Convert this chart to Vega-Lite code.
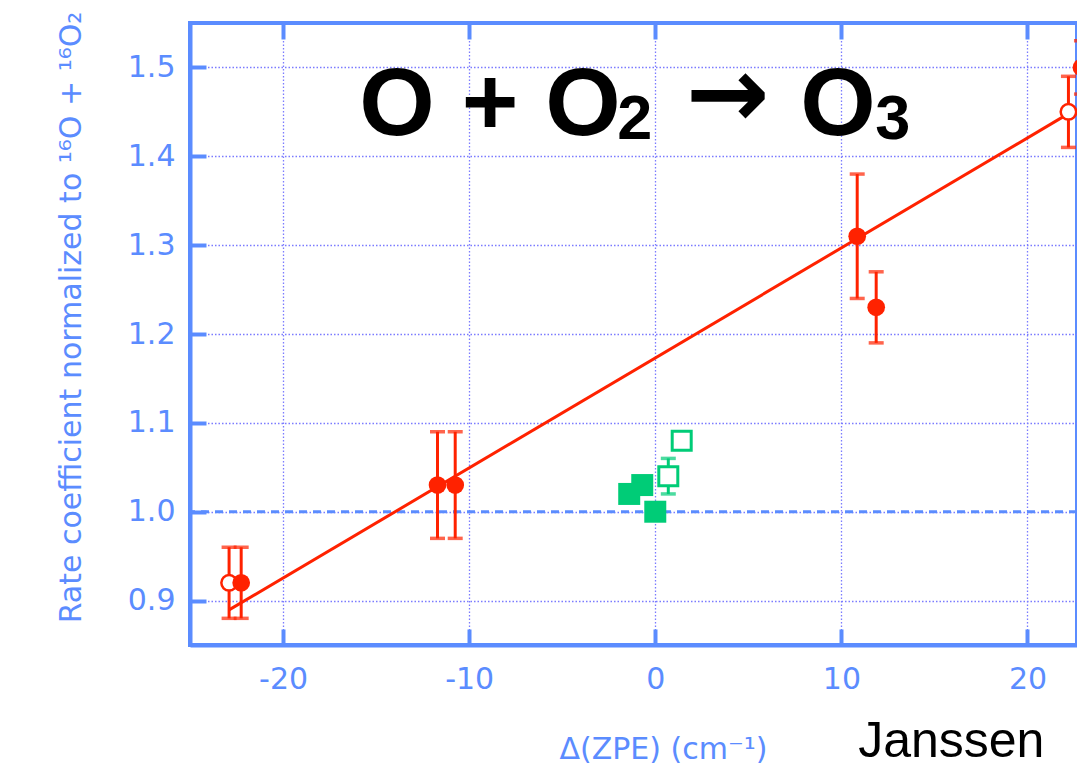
{
  "$schema": "https://vega.github.io/schema/vega-lite/v6.json",
  "width": 887,
  "height": 622,
  "autosize": {"type": "none"},
  "padding": {"left": 190, "top": 23, "right": 0, "bottom": 128},
  "background": "white",
  "config": {
    "view": {"stroke": "#5b8cff", "strokeWidth": 4},
    "axis": {
      "domainColor": "#5b8cff", "domainWidth": 4,
      "tickColor": "#5b8cff", "tickWidth": 4, "tickSize": -16,
      "labelColor": "#5b8cff", "labelFont": "DejaVu Sans", "labelFontSize": 30,
      "gridColor": "#7b7bff", "gridWidth": 1.3, "gridDash": [1.5, 2],
      "titleColor": "#5b8cff", "titleFont": "DejaVu Sans", "titleFontWeight": "normal"
    }
  },
  "datasets": {
    "points": [
      {"group": "a", "open": true, "dzpe": -22.9, "k": 0.92, "lo": 0.88, "hi": 0.96},
      {"group": "a", "open": false, "dzpe": -22.25, "k": 0.92, "lo": 0.88, "hi": 0.96},
      {"group": "a", "open": false, "dzpe": -11.7, "k": 1.03, "lo": 0.97, "hi": 1.09},
      {"group": "a", "open": false, "dzpe": -10.75, "k": 1.03, "lo": 0.97, "hi": 1.09},
      {"group": "a", "open": false, "dzpe": 10.85, "k": 1.31, "lo": 1.24, "hi": 1.38},
      {"group": "a", "open": false, "dzpe": 11.87, "k": 1.23, "lo": 1.19, "hi": 1.27},
      {"group": "a", "open": true, "dzpe": 22.2, "k": 1.45, "lo": 1.41, "hi": 1.49},
      {"group": "a", "open": false, "dzpe": 22.9, "k": 1.5, "lo": 1.47, "hi": 1.53},
      {"group": "b", "open": false, "dzpe": -0.7, "k": 1.03, "lo": null, "hi": null},
      {"group": "b", "open": false, "dzpe": -1.4, "k": 1.02, "lo": null, "hi": null},
      {"group": "b", "open": false, "dzpe": 0.0, "k": 1.0, "lo": null, "hi": null},
      {"group": "b", "open": true, "dzpe": 0.7, "k": 1.04, "lo": 1.02, "hi": 1.06},
      {"group": "b", "open": true, "dzpe": 1.42, "k": 1.08, "lo": null, "hi": null}
    ],
    "fit": [
      {"dzpe": -22.9, "k": 0.8895},
      {"dzpe": 22.2, "k": 1.448}
    ],
    "ref": [{"k": 1.0}],
    "eqmain": [
      {"label": "O + O", "dzpe": -15.9, "k": 1.4245},
      {"label": "O", "dzpe": 7.79, "k": 1.4245}
    ],
    "eqsub": [
      {"label": "2", "dzpe": -2.04, "k": 1.4189},
      {"label": "3", "dzpe": 11.82, "k": 1.4189}
    ],
    "eqarrow": [{"label": "→", "dzpe": 3.89, "k": 1.4662}],
    "credit": [{"label": "Janssen", "dzpe": 10.9, "k": 0.7235}]
  },
  "layer": [
    {
      "data": {"name": "ref"},
      "mark": {"type": "rule", "color": "#5b8cff", "strokeWidth": 3, "strokeDash": [8, 6]},
      "encoding": {
        "y": {"field": "k", "type": "quantitative", "scale": {"domain": [0.85, 1.55], "nice": false, "zero": false},
          "axis": {"values": [0.9, 1.0, 1.1, 1.2, 1.3, 1.4, 1.5], "format": ".1f", "grid": true, "labelPadding": 31,
            "title": "Rate coefficient normalized to ¹⁶O + ¹⁶O₂", "titleFontSize": 30,
            "titleX": -110, "titleY": 294, "titleAlign": "center", "titleBaseline": "alphabetic", "titleAngle": 270}}
      }
    },
    {
      "data": {"name": "points"},
      "transform": [{"filter": "datum.lo != null"}],
      "mark": {"type": "rule", "strokeWidth": 3},
      "encoding": {
        "x": {"field": "dzpe", "type": "quantitative", "scale": {"domain": [-25, 22.66], "nice": false, "zero": false},
          "axis": {"values": [-20, -10, 0, 10, 20], "grid": true, "labelPadding": 35,
            "labelExpr": "datum.value < 0 ? '-' + abs(datum.value) : '' + datum.value",
            "title": "Δ(ZPE) (cm⁻¹)", "titleFontSize": 30, "titleX": 473, "titleY": 113, "titleAlign": "center", "titleBaseline": "alphabetic"}},
        "y": {"field": "lo", "type": "quantitative"},
        "y2": {"field": "hi"},
        "color": {"field": "group", "type": "nominal", "scale": {"domain": ["a", "b"], "range": ["#ff2200", "#00cc77"]}, "legend": null}
      }
    },
    {
      "data": {"name": "points"},
      "transform": [{"filter": "datum.lo != null"}],
      "mark": {"type": "tick", "orient": "horizontal", "size": 15, "thickness": 3.5},
      "encoding": {
        "x": {"field": "dzpe", "type": "quantitative",
          "axis": {"orient": "top", "values": [-20, -10, 0, 10, 20], "labels": false, "grid": false, "domain": false, "title": null}},
        "y": {"field": "lo", "type": "quantitative"},
        "color": {"field": "group", "type": "nominal", "legend": null}
      }
    },
    {
      "data": {"name": "points"},
      "transform": [{"filter": "datum.hi != null"}],
      "mark": {"type": "tick", "orient": "horizontal", "size": 15, "thickness": 3.5},
      "encoding": {
        "x": {"field": "dzpe", "type": "quantitative", "axis": null},
        "y": {"field": "hi", "type": "quantitative"},
        "color": {"field": "group", "type": "nominal", "legend": null}
      }
    },
    {
      "data": {"name": "fit"},
      "mark": {"type": "line", "color": "#ff2200", "strokeWidth": 3},
      "encoding": {
        "x": {"field": "dzpe", "type": "quantitative", "axis": null},
        "y": {"field": "k", "type": "quantitative"}
      }
    },
    {
      "data": {"name": "points"},
      "transform": [{"filter": "datum.group == 'a' && datum.open"}],
      "mark": {"type": "point", "shape": "circle", "filled": false, "fill": "white", "fillOpacity": 1, "strokeWidth": 2.5, "size": 240, "opacity": 1},
      "encoding": {
        "x": {"field": "dzpe", "type": "quantitative", "axis": null},
        "y": {"field": "k", "type": "quantitative"},
        "stroke": {"field": "group", "type": "nominal", "scale": {"domain": ["a", "b"], "range": ["#ff2200", "#00cc77"]}, "legend": null}
      }
    },
    {
      "data": {"name": "points"},
      "transform": [{"filter": "datum.group == 'a' && !datum.open"}],
      "mark": {"type": "point", "shape": "circle", "filled": true, "size": 314, "opacity": 1, "strokeWidth": 0},
      "encoding": {
        "x": {"field": "dzpe", "type": "quantitative", "axis": null},
        "y": {"field": "k", "type": "quantitative"},
        "color": {"field": "group", "type": "nominal", "legend": null}
      }
    },
    {
      "data": {"name": "points"},
      "transform": [{"filter": "datum.group == 'b' && !datum.open"}],
      "mark": {"type": "point", "shape": "square", "filled": true, "size": 484, "opacity": 1, "strokeWidth": 0},
      "encoding": {
        "x": {"field": "dzpe", "type": "quantitative", "axis": null},
        "y": {"field": "k", "type": "quantitative"},
        "color": {"field": "group", "type": "nominal", "legend": null}
      }
    },
    {
      "data": {"name": "points"},
      "transform": [{"filter": "datum.group == 'b' && datum.open"}],
      "mark": {"type": "point", "shape": "square", "filled": false, "fill": "white", "fillOpacity": 1, "strokeWidth": 3, "size": 361, "opacity": 1},
      "encoding": {
        "x": {"field": "dzpe", "type": "quantitative", "axis": null},
        "y": {"field": "k", "type": "quantitative"},
        "stroke": {"field": "group", "type": "nominal", "legend": null}
      }
    },
    {
      "data": {"name": "eqmain"},
      "mark": {"type": "text", "font": "Liberation Sans", "fontWeight": "bold", "fontSize": 97, "align": "left", "baseline": "alphabetic", "color": "black"},
      "encoding": {
        "x": {"field": "dzpe", "type": "quantitative", "axis": null},
        "y": {"field": "k", "type": "quantitative"},
        "text": {"field": "label"}
      }
    },
    {
      "data": {"name": "eqsub"},
      "mark": {"type": "text", "font": "Liberation Sans", "fontWeight": "bold", "fontSize": 63, "align": "left", "baseline": "alphabetic", "color": "black"},
      "encoding": {
        "x": {"field": "dzpe", "type": "quantitative", "axis": null},
        "y": {"field": "k", "type": "quantitative"},
        "text": {"field": "label"}
      }
    },
    {
      "data": {"name": "eqarrow"},
      "mark": {"type": "text", "font": "DejaVu Sans", "fontWeight": "bold", "fontSize": 100, "align": "center", "baseline": "middle", "color": "black"},
      "encoding": {
        "x": {"field": "dzpe", "type": "quantitative", "axis": null},
        "y": {"field": "k", "type": "quantitative"},
        "text": {"field": "label"}
      }
    },
    {
      "data": {"name": "credit"},
      "mark": {"type": "text", "font": "Liberation Sans", "fontSize": 50, "align": "left", "baseline": "alphabetic", "color": "black", "clip": false},
      "encoding": {
        "x": {"field": "dzpe", "type": "quantitative", "axis": null},
        "y": {"field": "k", "type": "quantitative"},
        "text": {"field": "label"}
      }
    }
  ],
  "resolve": {"axis": {"x": "independent"}}
}
